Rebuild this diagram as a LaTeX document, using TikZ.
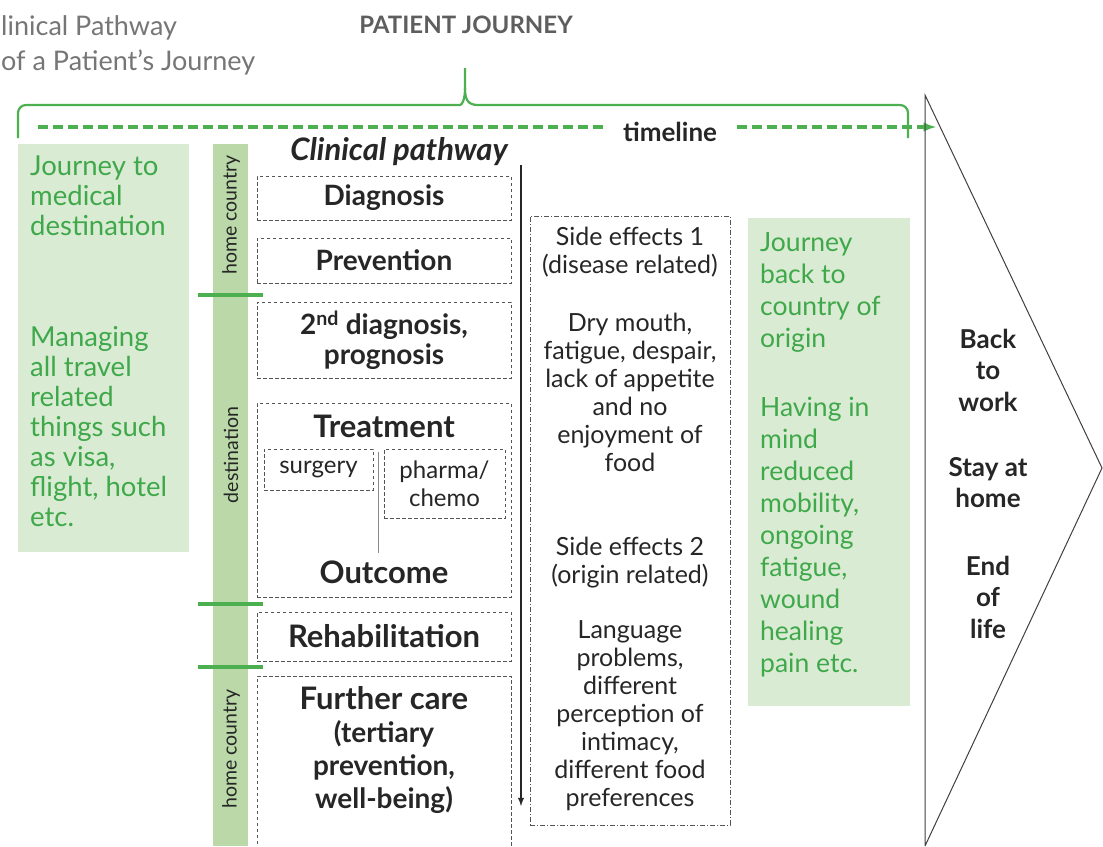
\documentclass[tikz,border=0pt]{standalone}
\usepackage{fontspec}
\setmainfont{Lato}
\usetikzlibrary{arrows, positioning}
\definecolor{jgreen}{RGB}{62,168,74}
\definecolor{boxgreen}{RGB}{218,235,211}
\definecolor{bargreen}{RGB}{186,216,168}
\definecolor{linegreen}{RGB}{76,176,80}
\definecolor{txtgray}{RGB}{38,38,38}
\definecolor{titlegray}{RGB}{118,118,118}
\definecolor{dashgray}{RGB}{85,85,85}
\newcommand{\fsz}[2]{\fontsize{#1}{#2}\selectfont}

\begin{document}
\begin{tikzpicture}[x=1pt,y=-1pt,inner sep=0pt,text=txtgray]
    \tikzstyle{pathbox}=[draw=dashgray,line width=0.9pt,dash pattern=on 3.5pt off 2.5pt,minimum width=254pt,font=\bfseries\fsz{28}{30},align=center]
    \tikzstyle{subbox}=[pathbox,minimum width=0pt,font=\fsz{24}{28}]
    \tikzstyle{sidebox}=[draw=dashgray,line width=0.9pt,dash pattern=on 5pt off 2pt on 1pt off 2pt]
    \tikzstyle{sidetext}=[font=\fsz{25}{28},align=center]
    \tikzstyle{greentext}=[text=jgreen,font=\fsz{27.5}{30},align=left,anchor=north west]
    \tikzstyle{bartext}=[rotate=90,font=\fsz{19.5}{22}]
    \tikzstyle{endtext}=[font=\bfseries\fsz{26}{31.5},align=center]
    \tikzstyle{sepline}=[linegreen,line width=3.5pt]
    \tikzstyle{brace}=[linegreen,line width=2.2pt]
    \tikzstyle{timeline}=[linegreen,line width=3.2pt,dash pattern=on 10pt off 5pt]

    \path[use as bounding box,fill=white] (0,0) rectangle (1103,846);

    % headings
    \node[anchor=base west,text=titlegray,font=\fsz{27}{35}] (ttlA) at (1,35) {linical Pathway};
    \node[anchor=base west,text=titlegray,font=\fsz{27}{35}] (ttlB) at (1,70) {of a Patient’s Journey};
    \node[text=titlegray!80!black,font=\bfseries\fsz{24}{28}] (pj) at (466,25) {PATIENT JOURNEY};

    % brace and timeline
    \draw[brace,rounded corners=8pt] (18,138) |- (452,105) [sharp corners] .. controls (462,105) and (465,100) .. (465,88) -- (465,68);
    \draw[brace,rounded corners=8pt] (465,88) [sharp corners] .. controls (465,100) and (468,105) .. (478,105) [rounded corners=8pt] -| (908,138);
    \coordinate (tlA) at (38,127);
    \coordinate (tlZ) at (936,127);
    \node[font=\bfseries\fsz{26}{30},inner xsep=20pt] (tl) at (670,132) {timeline};
    \draw[timeline] (tlA) -- (tl.west |- tlA);
    \draw[timeline,-latex] (tl.east |- tlA) -- (tlZ);

    % green areas
    \fill[boxgreen] (18,144) rectangle (189,552);
    \fill[boxgreen] (748,218) rectangle (910,706);
    \fill[bargreen] (213,144) rectangle (248,846);
    \draw[sepline] (198,295) -- (263,295);
    \draw[sepline] (198,604) -- (263,604);
    \draw[sepline] (198,667) -- (263,667);

    \node[bartext] (hcA) at (231,215) {home country};
    \node[bartext] (dst) at (231,455) {destination};
    \node[bartext] (hcB) at (231,749) {home country};

    \node[greentext] (goA) at (30,156) {Journey to\\medical\\destination};
    \node[greentext] (goB) at (30,326) {Managing\\all travel\\related\\things such\\as visa,\\flight, hotel\\etc.};
    \node[greentext,font=\fsz{26.5}{32}] (backA) at (760,232) {Journey\\back to\\country of\\origin};
    \node[greentext,font=\fsz{26.5}{32}] (backB) at (760,397) {Having in\\mind\\reduced\\mobility,\\ongoing\\fatigue,\\wound\\healing\\pain etc.};

    % clinical pathway
    \node[font=\bfseries\itshape\fsz{31}{33}] (cp) at (399,152) {Clinical pathway};
    \node[pathbox,minimum height=44pt] (diag) at (384,198) {Diagnosis};
    \node[pathbox,minimum height=45pt] (prev) at (384,260.5) {Prevention};
    \node[pathbox,minimum height=76pt] (diagB) at (384,340) {2\textsuperscript{nd} diagnosis,\\prognosis};
    \node[pathbox,minimum height=194pt] (treatbox) at (384,500) {};
    \node[font=\bfseries\fsz{31}{33},below=12pt of treatbox.north] (treat) {Treatment};
    \node[font=\bfseries\fsz{31}{33},above=14pt of treatbox.south] (outc) {Outcome};
    \node[subbox,minimum width=109pt,minimum height=41pt] (surg) at (318.5,469.5) {surgery};
    \node[subbox,minimum width=121pt,minimum height=69pt] (pharma) at (444.5,483.5) {pharma/\\chemo};
    \coordinate (splitA) at (378,452);
    \coordinate (splitB) at (378,553);
    \draw[dashgray!70,line width=0.8pt] (splitA) -- (splitB);
    \node[pathbox,minimum height=49pt,font=\bfseries\fsz{31}{33}] (rehab) at (384,636.5) {Rehabilitation};
    \draw[draw=dashgray,line width=0.9pt,dash pattern=on 3.5pt off 2.5pt] (257,850) |- (511,676) -- (511,850);
    \node[font=\bfseries\fsz{28}{33},align=center] (further) at (384,750) {{\fsz{31}{33}Further care}\\(tertiary\\prevention,\\well-being)};

    \coordinate (arrA) at (521,165);
    \coordinate (arrB) at (521,806);
    \draw[-latex,line width=1.8pt,txtgray] (arrA) -- (arrB);

    % side effects
    \node[sidebox,minimum width=200pt,minimum height=609pt] (side) at (630,520.5) {};
    \node[sidetext] (sideA) at (630,252) {Side effects 1\\(disease related)};
    \node[sidetext] (sideB) at (630,392) {Dry mouth,\\fatigue, despair,\\lack of appetite\\and no\\enjoyment of\\food};
    \node[sidetext] (sideC) at (630,562.5) {Side effects 2\\(origin related)};
    \node[sidetext] (sideD) at (630,715.5) {Language\\problems,\\different\\perception of\\intimacy,\\different food\\preferences};

    % outcome arrow shape
    \draw[line width=1pt,black!75] (925,846) -- (925,95) -- (1102,468) -- (925,846);
    \node[endtext] (work) at (988,370) {Back\\to\\work};
    \node[endtext] (home) at (988,482.5) {Stay at\\home};
    \node[endtext] (eol) at (988,597) {End\\of\\life};
\end{tikzpicture}
\end{document}
